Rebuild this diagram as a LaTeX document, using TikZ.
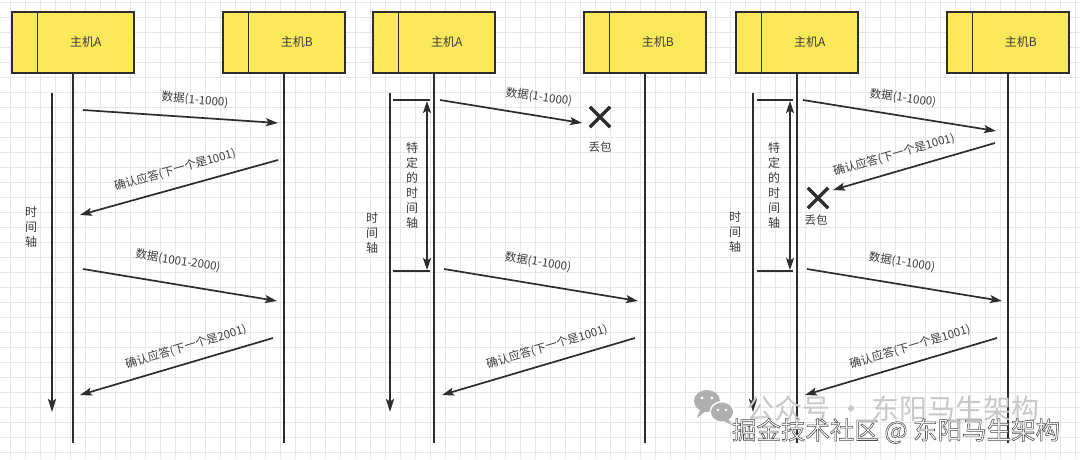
\documentclass[tikz,border=0pt]{standalone}
\usepackage{fontspec}
\setmainfont{Noto Sans CJK SC}
\newfontfamily\wmfont[FakeBold=2.2]{Noto Sans CJK SC}
\usetikzlibrary{arrows.meta,shapes.misc}
\definecolor{boxyellow}{RGB}{250,232,90}
\definecolor{ink}{RGB}{45,45,45}
\definecolor{txt}{RGB}{60,60,60}
\definecolor{gridc}{RGB}{230,230,230}
\definecolor{wmgray}{RGB}{200,200,200}
\definecolor{wmicon}{RGB}{175,175,175}
\newcommand\myhost[3]{%
  \node[host, anchor=north west] (#1) at (#2,11) {};
  \draw[hostline] ([xshift=26.5pt]#1.north west) -- ([xshift=26.5pt]#1.south west);
  \node[hosttext] (#1t) at ([xshift=13pt,yshift=0pt]#1.center) {#3};
}
\begin{document}
\begin{tikzpicture}[x=1pt,y=-1pt,
  host/.style={draw=ink, fill=boxyellow, line width=1.6pt, minimum width=122pt, minimum height=61pt, inner sep=0pt},
  hostline/.style={draw=ink, line width=1.6pt},
  hosttext/.style={text=txt, font=\fontsize{12}{14}\selectfont},
  lifeline/.style={draw=ink, line width=1.8pt},
  msg/.style={draw=ink, line width=1.7pt, -{Stealth[length=12pt,width=8pt,inset=2.5pt]}},
  timeax/.style={draw=ink, line width=1.8pt, -{Stealth[length=13pt,width=8pt,inset=2.5pt]}},
  span/.style={draw=ink, line width=1.7pt, {Stealth[length=12pt,width=8pt,inset=2.5pt]}-{Stealth[length=12pt,width=8pt,inset=2.5pt]}},
  tick/.style={draw=ink, line width=1.7pt},
  lbl/.style={text=txt, font=\fontsize{11.5}{13}\selectfont, inner sep=0pt},
  vtext/.style={text=txt, font=\fontsize{12}{15}\selectfont, align=center, inner sep=0pt},
  lost/.style={cross out, draw=ink, line width=3.4pt, minimum size=17pt, inner sep=0pt},
  lostlbl/.style={text=txt, font=\fontsize{11.5}{13}\selectfont, inner sep=0pt}]

% background and grid
\fill[white] (0,0) rectangle (1080,459);
\useasboundingbox (0,0) rectangle (1080,459);
\foreach \gx in {10,25,...,1075} \draw[gridc, line width=0.7pt] (\gx,0) -- (\gx,459);
\foreach \gy in {2,17,...,457} \draw[gridc, line width=0.7pt] (0,\gy) -- (1080,\gy);

\coordinate (bot) at (0,443);

% ================= Panel 1 =================
\myhost{hA1}{11}{主机A}
\myhost{hB1}{222}{主机B}
\draw[lifeline] (hA1.south) -- (hA1.south |- bot);
\draw[lifeline] (hB1.south) -- (hB1.south |- bot);
\coordinate (ta1) at (52,93); \coordinate (tb1) at (52,412);
\draw[timeax] (ta1) -- (tb1);
\node[vtext] (v1) at (31,227) {时\\间\\轴};

\coordinate (m11s) at (83,110); \coordinate (m11e) at (278,123);
\draw[msg] (m11s) -- (m11e);
\node[lbl, rotate=-5] (l11) at (195,100) {数据(1-1000)};
\coordinate (m12s) at (278,160); \coordinate (m12e) at (80,215);
\draw[msg] (m12s) -- (m12e);
\node[lbl, rotate=15.5] (l12) at (175,170) {确认应答(下一个是1001)};
\coordinate (m13s) at (83,269); \coordinate (m13e) at (277,301);
\draw[msg] (m13s) -- (m13e);
\node[lbl, rotate=-9] (l13) at (178,261) {数据(1001-2000)};
\coordinate (m14s) at (273,338); \coordinate (m14e) at (80,395);
\draw[msg] (m14s) -- (m14e);
\node[lbl, rotate=16.5] (l14) at (186,347) {确认应答(下一个是2001)};

% ================= Panel 2 =================
\myhost{hA2}{372}{主机A}
\myhost{hB2}{583}{主机B}
\draw[lifeline] (hA2.south) -- (hA2.south |- bot);
\draw[lifeline] (hB2.south) -- (hB2.south |- bot);
\coordinate (ta2) at (390,93); \coordinate (tb2) at (390,412);
\draw[timeax] (ta2) -- (tb2);
\node[vtext] (v2) at (372,233) {时\\间\\轴};
\coordinate (k2a) at (393,100); \coordinate (k2b) at (430,100);
\coordinate (k2c) at (393,271); \coordinate (k2d) at (430,271);
\draw[tick] (k2a) -- (k2b);
\draw[tick] (k2c) -- (k2d);
\coordinate (s2a) at (427,101); \coordinate (s2b) at (427,270);
\draw[span] (s2a) -- (s2b);
\node[vtext] (w2) at (412,185) {特\\定\\的\\时\\间\\轴};

\coordinate (m21s) at (440,100);
\node[lost] (x2) at (600,117) {};
\draw[msg] (m21s) -- (582,123);
\node[lbl, rotate=-8] (l21) at (539,97) {数据(1-1000)};
\node[lostlbl] (d2) at (600,147) {丢包};
\coordinate (m22s) at (444,269); \coordinate (m22e) at (638,301);
\draw[msg] (m22s) -- (m22e);
\node[lbl, rotate=-9] (l22) at (538,262) {数据(1-1000)};
\coordinate (m23s) at (635,338); \coordinate (m23e) at (442,395);
\draw[msg] (m23s) -- (m23e);
\node[lbl, rotate=16.5] (l23) at (547,347) {确认应答(下一个是1001)};

% ================= Panel 3 =================
\myhost{hA3}{735}{主机A}
\myhost{hB3}{946}{主机B}
\draw[lifeline] (hA3.south) -- (hA3.south |- bot);
\draw[lifeline] (hB3.south) -- (hB3.south |- bot);
\coordinate (ta3) at (753,93); \coordinate (tb3) at (753,412);
\draw[timeax] (ta3) -- (tb3);
\node[vtext] (v3) at (735,232) {时\\间\\轴};
\coordinate (k3a) at (757,100); \coordinate (k3b) at (793,100);
\coordinate (k3c) at (757,271); \coordinate (k3d) at (793,271);
\draw[tick] (k3a) -- (k3b);
\draw[tick] (k3c) -- (k3d);
\coordinate (s3a) at (790,101); \coordinate (s3b) at (790,270);
\draw[span] (s3a) -- (s3b);
\node[vtext] (w3) at (774,185) {特\\定\\的\\时\\间\\轴};

\coordinate (m31s) at (803,100); \coordinate (m31e) at (996,131);
\draw[msg] (m31s) -- (m31e);
\node[lbl, rotate=-8] (l31) at (903,98) {数据(1-1000)};
\coordinate (m32s) at (995,143);
\node[lost] (x3) at (818,198) {};
\draw[msg] (m32s) -- (833,190);
\node[lbl, rotate=16] (l32) at (894,155) {确认应答(下一个是1001)};
\node[lostlbl] (d3) at (816,220) {丢包};
\coordinate (m33s) at (807,269); \coordinate (m33e) at (1002,301);
\draw[msg] (m33s) -- (m33e);
\node[lbl, rotate=-9] (l33) at (902,262) {数据(1-1000)};
\coordinate (m34s) at (997,338); \coordinate (m34e) at (805,395);
\draw[msg] (m34s) -- (m34e);
\node[lbl, rotate=16.5] (l34) at (910,347) {确认应答(下一个是1001)};

% ================= watermarks =================
\fill[wmicon] (707,401) ellipse (13pt and 11pt);
\fill[wmicon] (700,410) -- (697,418) -- (706,411) -- cycle;
\fill[white] (722,412) ellipse (12.5pt and 11pt);
\fill[wmicon] (722,412) ellipse (11pt and 9.5pt);
\fill[wmicon] (728,419) -- (732,425) -- (722,420) -- cycle;
\fill[white] (702,398) circle (1.6pt) (712,398) circle (1.6pt) (718,410) circle (1.4pt) (726,410) circle (1.4pt);
\node[text=wmgray, font=\fontsize{28}{30}\selectfont, inner sep=0pt] (wm1) at (893,409) {公众号 · 东阳马生架构};
\node[text=white, font=\wmfont\fontsize{24.5}{28}\selectfont, inner sep=0pt] (wm2) at (896,431) {\special{pdf:literal direct 0.3 0.3 0.3 RG}掘金技术社区 @ 东阳马生架构};
\end{tikzpicture}
\end{document}
